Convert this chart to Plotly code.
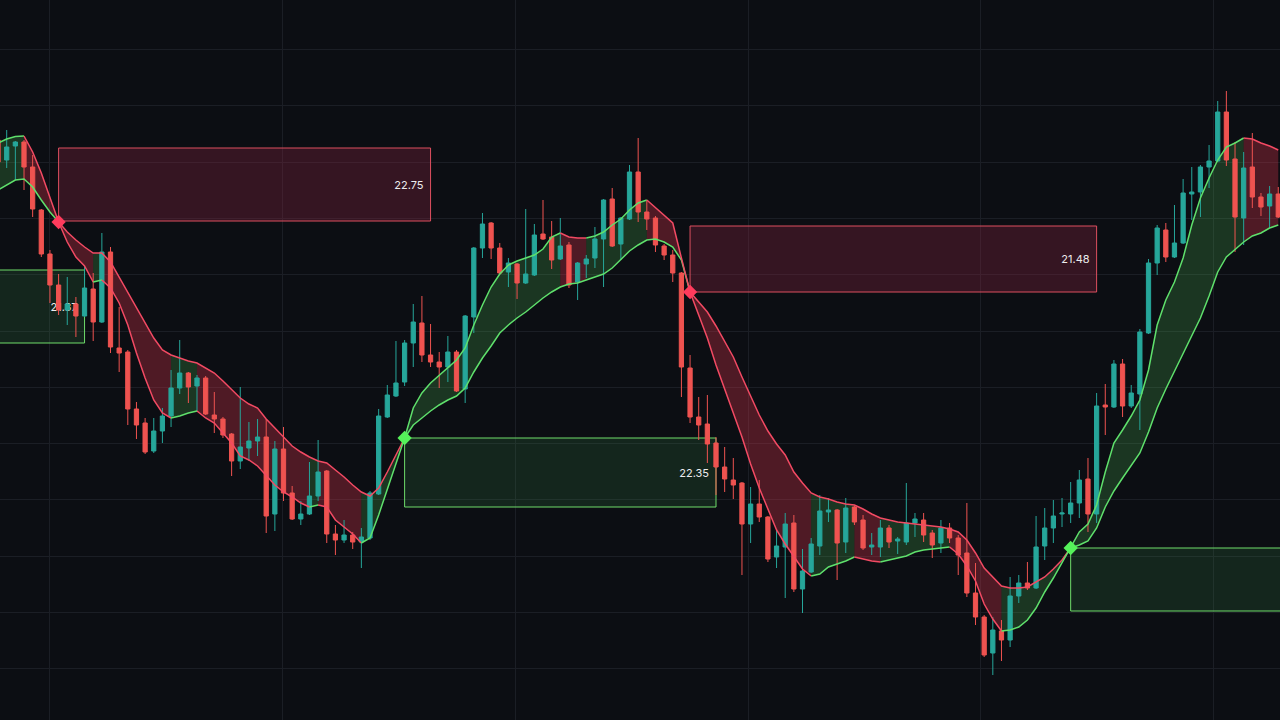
import plotly.graph_objects as go

# ---------------- data ----------------
bars = list(range(-1, 148))

open_ = [18.60, 18.40, 18.54, 18.58, 18.33, 17.90, 17.46, 17.15, 16.90, 16.96,
         16.84, 17.11, 16.78, 17.48, 16.52, 16.48, 15.91, 15.77, 15.49, 15.69,
         15.84, 16.12, 16.27, 16.14, 16.22, 15.85, 15.81, 15.66, 15.39, 15.52,
         15.59, 15.63, 14.86, 15.51, 15.07, 14.81, 14.86, 15.04, 15.29, 14.66,
         14.60, 14.65, 14.58, 14.62, 15.06, 15.83, 16.04, 16.18, 16.57, 16.77,
         16.45, 16.38, 16.33, 16.48, 16.11, 16.83, 17.52, 17.77, 17.52, 17.28,
         17.36, 17.17, 17.25, 17.66, 17.63, 17.41, 17.55, 17.18, 17.36, 17.42,
         17.61, 18.01, 17.56, 17.81, 18.28, 17.88, 17.82, 17.54, 17.45, 17.27,
         16.32, 15.83, 15.76, 15.57, 15.33, 15.20, 15.17, 14.76, 14.96, 14.83,
         14.43, 14.53, 14.77, 14.11, 14.28, 14.54, 14.88, 14.90, 14.58, 14.93,
         14.80, 14.53, 14.53, 14.72, 14.59, 14.58, 14.77, 14.80, 14.67, 14.57,
         14.72, 14.62, 14.47, 14.07, 13.83, 13.47, 13.69, 13.60, 14.04, 14.17,
         14.12, 14.54, 14.72, 14.86, 14.86, 14.97, 15.21, 14.86, 15.95, 15.93,
         16.36, 15.94, 16.06, 16.67, 17.37, 17.70, 17.43, 17.57, 18.06, 18.08,
         18.33, 18.39, 18.88, 18.41, 17.82, 18.33, 18.03, 17.94, 18.06]
high = [18.62, 18.70, 18.59, 18.60, 18.45, 17.91, 17.50, 17.26, 17.23, 17.03,
        17.34, 17.27, 17.67, 17.53, 16.93, 16.50, 15.98, 15.82, 15.82, 15.92,
        16.30, 16.60, 16.28, 16.25, 16.24, 16.08, 15.83, 15.67, 16.13, 15.78,
        15.81, 15.81, 15.59, 15.73, 15.14, 14.99, 15.38, 15.60, 15.30, 14.75,
        14.80, 14.68, 14.72, 15.09, 15.91, 16.15, 16.59, 16.60, 16.96, 17.04,
        16.76, 16.48, 16.64, 16.50, 16.85, 17.53, 17.87, 17.78, 17.57, 17.42,
        17.37, 17.91, 17.76, 18.00, 17.79, 17.82, 17.58, 17.38, 17.45, 17.73,
        18.01, 18.12, 17.83, 18.35, 18.62, 17.99, 17.84, 17.56, 17.50, 17.28,
        16.45, 16.03, 16.05, 15.63, 15.53, 15.42, 15.18, 15.13, 15.20, 14.84,
        14.71, 14.87, 14.85, 14.51, 14.62, 15.05, 15.02, 14.91, 15.02, 14.94,
        14.85, 14.67, 14.80, 14.75, 14.63, 15.17, 14.87, 14.87, 14.70, 14.80,
        14.77, 14.65, 14.97, 14.37, 13.85, 13.83, 13.80, 14.23, 14.25, 14.38,
        14.84, 14.92, 15.00, 15.02, 15.18, 15.30, 15.42, 16.07, 16.16, 16.40,
        16.41, 16.15, 16.71, 17.41, 17.75, 17.77, 17.95, 18.21, 18.33, 18.35,
        18.55, 18.99, 19.09, 18.58, 18.48, 18.67, 18.07, 18.14, 18.13]
low = [18.35, 18.32, 18.20, 18.10, 17.83, 17.43, 16.97, 16.85, 16.75, 16.63,
       16.83, 16.59, 16.77, 16.47, 16.28, 15.75, 15.61, 15.46, 15.47, 15.57,
       15.73, 16.06, 15.97, 15.88, 15.85, 15.67, 15.62, 15.24, 15.31, 15.39,
       15.44, 14.67, 14.69, 14.99, 14.80, 14.75, 14.85, 14.99, 14.57, 14.45,
       14.57, 14.51, 14.32, 14.60, 15.05, 15.82, 16.03, 16.14, 16.33, 16.38,
       16.33, 16.12, 16.18, 16.08, 15.97, 16.67, 17.42, 17.41, 17.25, 17.13,
       17.01, 17.16, 17.24, 17.60, 17.31, 17.40, 17.12, 17.00, 17.22, 17.32,
       17.13, 17.53, 17.40, 17.80, 17.78, 17.70, 17.48, 17.40, 17.18, 16.03,
       15.77, 15.60, 15.37, 15.05, 15.08, 15.01, 14.25, 14.57, 14.78, 14.38,
       14.32, 14.02, 14.08, 13.87, 14.27, 14.45, 14.78, 14.20, 14.47, 14.75,
       14.50, 14.45, 14.43, 14.52, 14.46, 14.55, 14.63, 14.58, 14.42, 14.47,
       14.57, 14.25, 14.03, 13.75, 13.43, 13.25, 13.39, 13.53, 13.97, 14.10,
       14.11, 14.40, 14.57, 14.73, 14.77, 14.82, 14.68, 14.77, 15.65, 15.92,
       15.83, 15.92, 15.70, 16.66, 17.25, 17.38, 17.42, 17.56, 17.80, 17.83,
       18.12, 18.38, 18.34, 17.48, 17.55, 17.92, 17.84, 17.72, 17.82]
close = [18.38, 18.53, 18.58, 18.33, 17.91, 17.46, 17.15, 16.90, 16.96, 16.84,
         17.12, 16.78, 17.48, 16.53, 16.47, 15.91, 15.75, 15.48, 15.69, 15.84,
         16.12, 16.27, 16.13, 16.22, 15.86, 15.81, 15.65, 15.39, 15.53, 15.59,
         15.63, 14.84, 15.51, 15.07, 14.81, 14.86, 15.04, 15.28, 14.66, 14.60,
         14.65, 14.58, 14.63, 15.07, 15.84, 16.05, 16.17, 16.57, 16.78, 16.45,
         16.38, 16.33, 16.48, 16.09, 16.84, 17.52, 17.76, 17.52, 17.27, 17.37,
         17.17, 17.26, 17.65, 17.61, 17.40, 17.54, 17.15, 17.37, 17.41, 17.61,
         18.00, 17.54, 17.82, 18.28, 17.88, 17.81, 17.55, 17.45, 17.27, 16.33,
         15.83, 15.75, 15.56, 15.33, 15.21, 15.15, 14.76, 14.96, 14.83, 14.41,
         14.54, 14.76, 14.11, 14.29, 14.56, 14.89, 14.90, 14.57, 14.92, 14.78,
         14.52, 14.55, 14.72, 14.58, 14.61, 14.77, 14.81, 14.65, 14.55, 14.72,
         14.62, 14.45, 14.07, 13.83, 13.45, 13.70, 13.60, 14.04, 14.17, 14.12,
         14.53, 14.72, 14.84, 14.87, 14.97, 15.20, 14.86, 15.94, 15.93, 16.36,
         15.94, 16.07, 16.68, 17.37, 17.72, 17.43, 17.57, 18.07, 18.08, 18.33,
         18.39, 18.88, 18.40, 17.83, 18.32, 18.03, 17.93, 18.06, 17.83]

ema_fast = [18.57, 18.61, 18.635, 18.64, 18.48, 18.27, 18.03, 17.78, 17.58, 17.43,
            17.34, 17.18, 17.20, 17.12, 16.97, 16.75, 16.47, 16.22, 16.00, 15.87,
            15.82, 15.84, 15.87, 15.89, 15.82, 15.77, 15.67, 15.57, 15.44, 15.40,
            15.34, 15.25, 15.15, 15.08, 15.03, 14.97, 14.93, 14.95, 14.93, 14.80,
            14.73, 14.66, 14.57, 14.62, 14.85, 15.10, 15.37, 15.62, 15.92, 16.07,
            16.17, 16.25, 16.33, 16.40, 16.52, 16.75, 16.95, 17.13, 17.26, 17.35,
            17.39, 17.42, 17.45, 17.51, 17.63, 17.67, 17.63, 17.62, 17.62, 17.64,
            17.68, 17.75, 17.81, 17.90, 17.97, 18.00, 17.92, 17.84, 17.77, 17.42,
            17.08, 16.85, 16.62, 16.35, 16.10, 15.87, 15.63, 15.36, 15.12, 14.90,
            14.70, 14.56, 14.43, 14.31, 14.24, 14.26, 14.33, 14.36, 14.39, 14.43,
            14.41, 14.39, 14.38, 14.40, 14.42, 14.44, 14.48, 14.50, 14.51, 14.52,
            14.53, 14.46, 14.34, 14.19, 13.96, 13.81, 13.69, 13.70, 13.73, 13.80,
            13.92, 14.08, 14.22, 14.37, 14.52, 14.68, 14.76, 14.95, 15.28, 15.57,
            15.70, 15.84, 16.00, 16.30, 16.75, 17.00, 17.18, 17.42, 17.75, 18.02,
            18.22, 18.40, 18.53, 18.57, 18.62, 18.61, 18.57, 18.54, 18.50]
ema_slow = [18.10, 18.15, 18.20, 18.21, 18.13, 18.00, 17.88, 17.78, 17.68, 17.60,
            17.53, 17.47, 17.47, 17.38, 17.23, 17.08, 16.92, 16.77, 16.62, 16.50,
            16.45, 16.42, 16.39, 16.37, 16.32, 16.27, 16.19, 16.10, 16.02, 15.96,
            15.92, 15.81, 15.72, 15.62, 15.54, 15.48, 15.43, 15.39, 15.37, 15.30,
            15.23, 15.15, 15.08, 15.04, 15.12, 15.28, 15.45, 15.62, 15.75, 15.82,
            15.89, 15.95, 16.00, 16.04, 16.12, 16.28, 16.42, 16.54, 16.67, 16.75,
            16.82, 16.88, 16.95, 17.02, 17.08, 17.13, 17.16, 17.17, 17.20, 17.23,
            17.26, 17.32, 17.41, 17.49, 17.55, 17.60, 17.61, 17.58, 17.53, 17.40,
            17.08, 16.98, 16.88, 16.74, 16.59, 16.43, 16.23, 16.04, 15.85, 15.69,
            15.56, 15.45, 15.28, 15.17, 15.07, 15.03, 15.01, 14.98, 14.96, 14.95,
            14.91, 14.86, 14.82, 14.80, 14.78, 14.77, 14.76, 14.75, 14.74, 14.73,
            14.71, 14.68, 14.60, 14.47, 14.32, 14.23, 14.14, 14.12, 14.12, 14.13,
            14.18, 14.23, 14.31, 14.40, 14.52, 14.55, 14.59, 14.72, 14.93, 15.09,
            15.22, 15.34, 15.47, 15.68, 15.92, 16.11, 16.29, 16.47, 16.64, 16.82,
            17.04, 17.28, 17.43, 17.51, 17.58, 17.64, 17.67, 17.72, 17.75]

# crossover signals (bar index, side)
signal_bars = [6, 46, 79, 123]
signal_side = ["sell", "buy", "sell", "buy"]

# zones drawn from each signal
zone_start = [6, -12, 46, 79, 123]
zone_end = [49, 9, 82, 126, 170]
zone_top = [18.52, 17.30, 15.62, 17.74, 14.52]
zone_bottom = [17.79, 16.57, 14.93, 17.08, 13.89]
zone_label = ["22.75", "21.37", "22.35", "21.48", ""]
zone_side = ["sell", "buy", "buy", "sell", "buy"]

# ---------------- styles ----------------
BG = "#0c0e13"
GRID = "#1b1e25"
UP = "#26a69a"
DOWN = "#ef5350"
LINE_G = "#5fe06c"
LINE_R = "#f24a63"
FILL_G = "rgba(80,200,90,0.22)"
FILL_R = "rgba(235,55,80,0.30)"
BOX_FILL = {"sell": "rgba(150,40,70,0.30)", "buy": "rgba(60,150,80,0.18)"}
BOX_LINE = {"sell": "#dd4f5f", "buy": "#6fdc6a"}
DIAMOND = {"sell": "#ff3b5c", "buy": "#55f25a"}

n = len(bars)
idx = {b: k for k, b in enumerate(bars)}


def runs(flags):
    out = []
    s = 0
    for k in range(1, len(flags) + 1):
        if k == len(flags) or flags[k] != flags[s]:
            out.append((s, k, flags[s]))
            s = k
    return out


fast_up = [ema_fast[k + 1] > ema_fast[k] for k in range(n - 1)]
bull = [(ema_fast[k] + ema_fast[k + 1]) > (ema_slow[k] + ema_slow[k + 1]) for k in range(n - 1)]

shapes = []
# zones
for s, e, t, b, lab, side in zip(zone_start, zone_end, zone_top, zone_bottom, zone_label, zone_side):
    shapes.append(dict(
        type="rect", xref="x", yref="y", x0=s, x1=e, y0=b, y1=t,
        fillcolor=BOX_FILL[side], line=dict(color=BOX_LINE[side], width=1),
        layer="between",
        label=dict(text=lab, textposition="middle right", padding=4,
                   font=dict(family="Inter, Roboto, sans-serif", size=11, color="#ececed")),
    ))
# cloud fill between the two averages
for s, e, up in runs(fast_up):
    xs = bars[s:e + 1]
    top = ema_fast[s:e + 1]
    bot = ema_slow[s:e + 1]
    pts = list(zip(xs, top)) + list(zip(xs[::-1], bot[::-1]))
    path = "M " + " L ".join(f"{x},{y}" for x, y in pts) + " Z"
    shapes.append(dict(type="path", xref="x", yref="y", path=path,
                       fillcolor=FILL_G if up else FILL_R,
                       line=dict(width=0), layer="between"))

fig = go.Figure()
fig.add_trace(go.Candlestick(
    x=bars, open=open_, high=high, low=low, close=close,
    increasing=dict(line=dict(color=UP, width=1), fillcolor=UP),
    decreasing=dict(line=dict(color=DOWN, width=1), fillcolor=DOWN),
    whiskerwidth=0, hoverinfo="skip", showlegend=False,
))

for s, e, up in runs(bull):
    fig.add_trace(go.Scatter(x=bars[s:e + 1], y=ema_slow[s:e + 1], mode="lines",
                             line=dict(color=LINE_G if up else LINE_R, width=1.5),
                             hoverinfo="skip", showlegend=False))
for s, e, up in runs(fast_up):
    fig.add_trace(go.Scatter(x=bars[s:e + 1], y=ema_fast[s:e + 1], mode="lines",
                             line=dict(color=LINE_G if up else LINE_R, width=1.5),
                             hoverinfo="skip", showlegend=False))

for side in ("sell", "buy"):
    xs = [b for b, sd in zip(signal_bars, signal_side) if sd == side]
    ys = [ema_fast[idx[b]] for b in xs]
    fig.add_trace(go.Scatter(x=xs, y=ys, mode="markers",
                             marker=dict(symbol="diamond", size=11, color=DIAMOND[side], line=dict(width=0)),
                             hoverinfo="skip", showlegend=False))

fig.update_layout(
    width=1280, height=720,
    margin=dict(l=0, r=0, t=0, b=0),
    paper_bgcolor=BG, plot_bgcolor=BG,
    shapes=shapes, showlegend=False, hovermode=False,
    xaxis=dict(range=[-0.775, 147.2], showgrid=True, gridcolor=GRID, gridwidth=1,
               tick0=5.0, dtick=26.9, zeroline=False, showticklabels=False, ticks="",
               rangeslider=dict(visible=False), fixedrange=True),
    yaxis=dict(range=[12.8, 20.0], showgrid=True, gridcolor=GRID, gridwidth=1,
               tick0=19.505, dtick=0.563, zeroline=False, showticklabels=False, ticks="",
               fixedrange=True),
)

fig.write_html("out.html", config={"displayModeBar": False})
